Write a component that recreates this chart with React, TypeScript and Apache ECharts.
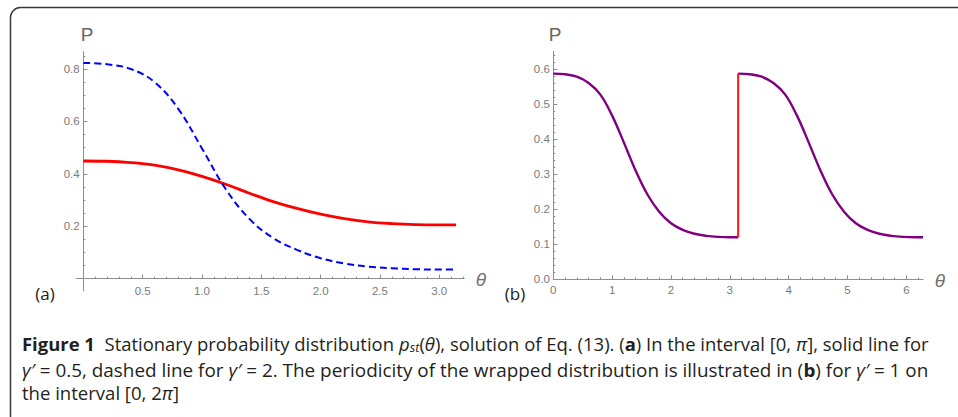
import { useEffect, useRef } from 'react';
import * as echarts from 'echarts';

// ---- Panel (a): stationary distribution on [0, pi]
const thetaA = [0, 0.2, 0.4, 0.6, 0.8, 1.0, 1.2, 1.4, 1.6, 1.8, 2.0, 2.2, 2.4, 2.6, 2.8, 3.0, 3.1416];
const pSolidA = [0.449, 0.448, 0.443, 0.433, 0.415, 0.390, 0.360, 0.326, 0.294, 0.268, 0.246, 0.229, 0.217, 0.210, 0.206, 0.205, 0.205];
const pDashedA = [0.823, 0.818, 0.800, 0.750, 0.648, 0.497, 0.342, 0.228, 0.155, 0.110, 0.078, 0.058, 0.046, 0.040, 0.036, 0.035, 0.035];

// ---- Panel (b): wrapped distribution on [0, 2pi]
const thetaB1 = [0, 0.2, 0.4, 0.6, 0.8, 1.0, 1.2, 1.4, 1.6, 1.8, 2.0, 2.2, 2.4, 2.6, 2.8, 3.0, 3.1416];
const pB1 = [0.587, 0.585, 0.578, 0.560, 0.527, 0.467, 0.390, 0.310, 0.242, 0.193, 0.160, 0.141, 0.130, 0.124, 0.121, 0.120, 0.120];
const thetaB2 = [3.1416, 3.3416, 3.5416, 3.7416, 3.9416, 4.1416, 4.3416, 4.5416, 4.7416, 4.9416, 5.1416, 5.3416, 5.5416, 5.7416, 5.9416, 6.1416, 6.2832];
const pB2 = [0.587, 0.585, 0.578, 0.560, 0.527, 0.467, 0.390, 0.310, 0.242, 0.193, 0.160, 0.141, 0.130, 0.124, 0.121, 0.120, 0.120];
const jumpTheta = [3.1416, 3.1416];
const jumpP = [0.120, 0.587];

// ---- ticks
const axMajor = [0.5, 1.0, 1.5, 2.0, 2.5, 3.0];
const axMinor = [0.1, 0.2, 0.3, 0.4, 0.6, 0.7, 0.8, 0.9, 1.1, 1.2, 1.3, 1.4, 1.6, 1.7, 1.8, 1.9, 2.1, 2.2, 2.3, 2.4, 2.6, 2.7, 2.8, 2.9, 3.1, 3.2];
const ayMajor = [0.2, 0.4, 0.6, 0.8];
const ayMinor = [0.05, 0.1, 0.15, 0.25, 0.3, 0.35, 0.45, 0.5, 0.55, 0.65, 0.7, 0.75, 0.85];
const bxMajor = [0, 1, 2, 3, 4, 5, 6];
const bxMinor = [0.2, 0.4, 0.6, 0.8, 1.2, 1.4, 1.6, 1.8, 2.2, 2.4, 2.6, 2.8, 3.2, 3.4, 3.6, 3.8, 4.2, 4.4, 4.6, 4.8, 5.2, 5.4, 5.6, 5.8, 6.2];
const byMajor = [0, 0.1, 0.2, 0.3, 0.4, 0.5, 0.6];
const byMinor = [0.02, 0.04, 0.06, 0.08, 0.12, 0.14, 0.16, 0.18, 0.22, 0.24, 0.26, 0.28, 0.32, 0.34, 0.36, 0.38, 0.42, 0.44, 0.46, 0.48, 0.52, 0.54, 0.56, 0.58, 0.62, 0.64];

const zip = (xs: number[], ys: number[]) => xs.map((x, i) => [x, ys[i]]);

const AXIS_COLOR = '#8e8e8e';
const LABEL_COLOR = '#7a7a7a';
const TICK_FONT = "'Liberation Sans', Arial, sans-serif";
const CAP_FONT = "'Open Sans', sans-serif";

function makeAxis(dim: 'x' | 'y', grid: number, min: number, max: number, major: number[], minor: number[], onZeroIdx: number, fmt: (v: number) => string, margin: number) {
  const pos = dim === 'x' ? 'bottom' : 'left';
  const main = {
    type: 'value', gridIndex: grid, min, max, position: pos,
    axisLine: { show: true, onZero: true, onZeroAxisIndex: onZeroIdx, lineStyle: { color: AXIS_COLOR, width: 1 } },
    axisTick: { show: true, inside: true, length: 4, customValues: major, lineStyle: { color: AXIS_COLOR, width: 1 } },
    axisLabel: { show: true, customValues: major, formatter: (v: number) => fmt(v), color: LABEL_COLOR, fontSize: 11.5, fontFamily: TICK_FONT, margin },
    splitLine: { show: false },
  };
  const mnr = {
    type: 'value', gridIndex: grid, min, max, position: pos,
    axisLine: { show: false, onZero: true, onZeroAxisIndex: onZeroIdx },
    axisTick: { show: true, inside: true, length: 2, customValues: minor, lineStyle: { color: AXIS_COLOR, width: 1 } },
    axisLabel: { show: false },
    splitLine: { show: false },
  };
  return [main, mnr];
}

export default function App() {
  const ref = useRef<HTMLDivElement>(null);
  useEffect(() => {
    if (!ref.current) return;
    const chart = echarts.init(ref.current, undefined, { renderer: 'svg' });
    const f1 = (v: number) => v.toFixed(1);
    const f0 = (v: number) => v.toFixed(0);
    const xAxes = [
      ...makeAxis('x', 0, -0.06, 3.21, axMajor, axMinor, 0, f1, -6),
      ...makeAxis('x', 1, 0, 6.2832, bxMajor, bxMinor, 2, f0, 5),
    ];
    const yAxes = [
      ...makeAxis('y', 0, -0.046, 0.866, ayMajor, ayMinor, 0, f1, -3.5),
      ...makeAxis('y', 1, 0, 0.65, byMajor, byMinor, 2, f1, 3.5),
    ];
    const C = '#231f20';
    const FS = 17.5;
    const rich = {
      b: { fontFamily: CAP_FONT, fontSize: FS, fontWeight: 'bold', color: C },
      i: { fontFamily: CAP_FONT, fontSize: FS, fontStyle: 'italic', color: C },
      sub: { fontFamily: CAP_FONT, fontSize: 12, fontStyle: 'italic', color: C, padding: [8, 0, 0, 0] },
      lk: { fontFamily: CAP_FONT, fontSize: FS, color: '#3b4cc0' },
    };
    const capText = (y: number, text: string, sx: number) => ({
      type: 'text', x: 22, y, scaleX: sx,
      style: { text, fontFamily: CAP_FONT, fontSize: FS, fill: C, verticalAlign: 'middle', align: 'left', rich },
    });
    chart.setOption({
      animation: false,
      grid: [
        { left: 76.2, right: 493.8, top: 51.7, bottom: 126.3 },
        { left: 553.3, right: 35, top: 51.5, bottom: 137.7 },
      ],
      xAxis: xAxes,
      yAxis: yAxes,
      series: [
        { type: 'line', xAxisIndex: 0, yAxisIndex: 0, data: zip(thetaA, pSolidA), smooth: 0.4, showSymbol: false, lineStyle: { color: '#ff0000', width: 2.8 } },
        { type: 'line', xAxisIndex: 0, yAxisIndex: 0, data: zip(thetaA, pDashedA), smooth: 0.4, showSymbol: false, lineStyle: { color: '#0000ff', width: 2, type: [7, 4] } },
        { type: 'line', xAxisIndex: 2, yAxisIndex: 2, data: zip(thetaB1, pB1), smooth: 0.4, showSymbol: false, lineStyle: { color: '#800080', width: 2.4 } },
        { type: 'line', xAxisIndex: 2, yAxisIndex: 2, data: zip(thetaB2, pB2), smooth: 0.4, showSymbol: false, lineStyle: { color: '#800080', width: 2.4 } },
        { type: 'line', xAxisIndex: 2, yAxisIndex: 2, data: zip(jumpTheta, jumpP), showSymbol: false, lineStyle: { color: '#ff1a1a', width: 2 } },
      ],
      graphic: [
        { type: 'rect', shape: { x: 10.5, y: 7.5, width: 1000, height: 600, r: 10 }, style: { fill: 'none', stroke: '#3a3a3a', lineWidth: 1.5 }, z: -10 },
        { type: 'text', x: 87, y: 34, style: { text: 'P', fontFamily: TICK_FONT, fontSize: 19, fill: '#666', align: 'center', verticalAlign: 'middle' } },
        { type: 'text', x: 555, y: 34, style: { text: 'P', fontFamily: TICK_FONT, fontSize: 19, fill: '#666', align: 'center', verticalAlign: 'middle' } },
        { type: 'text', x: 481, y: 279, style: { text: 'θ', fontFamily: TICK_FONT, fontSize: 19, fontStyle: 'italic', fill: '#6f6f6f', align: 'center', verticalAlign: 'middle' } },
        { type: 'text', x: 940, y: 280, style: { text: 'θ', fontFamily: TICK_FONT, fontSize: 19, fontStyle: 'italic', fill: '#6f6f6f', align: 'center', verticalAlign: 'middle' } },
        { type: 'text', x: 45, y: 293, style: { text: '(a)', fontFamily: "'Open Sans', sans-serif", fontSize: 17, fill: '#1a1a1a', align: 'center', verticalAlign: 'middle' } },
        { type: 'text', x: 515, y: 293, style: { text: '(b)', fontFamily: "'Open Sans', sans-serif", fontSize: 17, fill: '#1a1a1a', align: 'center', verticalAlign: 'middle' } },
        capText(344, '{b|Figure 1}  Stationary probability distribution {i|p}{sub|st}({i|θ}), solution of Eq. ({lk|13}). ({b|a}) In the interval [0, {i|π}], solid line for', 1.055),
        capText(370, '{i|γ′} = 0.5, dashed line for {i|γ′} = 2. The periodicity of the wrapped distribution is illustrated in ({b|b}) for {i|γ′} = 1 on', 1.08),
        capText(393, 'the interval [0, 2{i|π}]', 1.06),
      ],
    });
    return () => chart.dispose();
  }, []);
  return <div ref={ref} style={{ position: 'fixed', left: 0, top: 0, width: 958, height: 417, background: '#fff' }} />;
}
